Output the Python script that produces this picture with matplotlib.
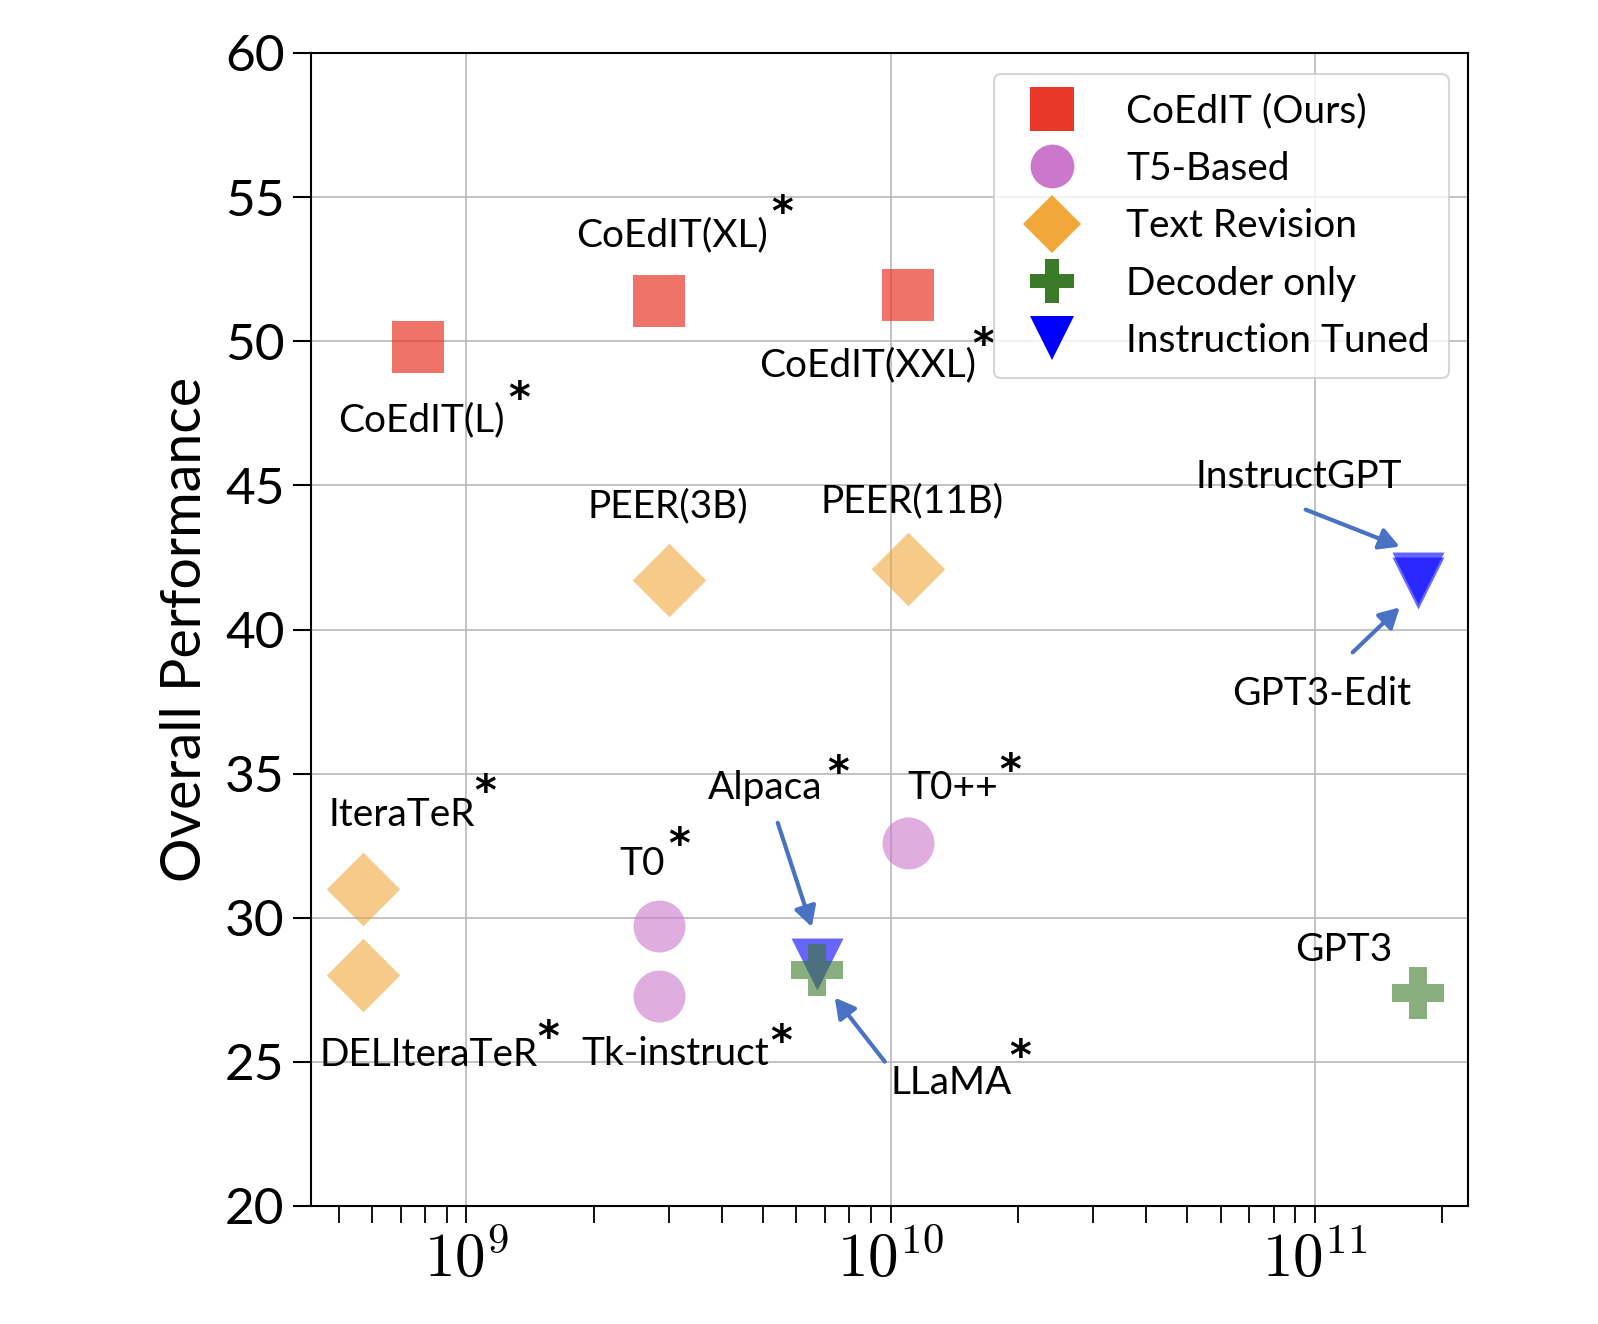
import matplotlib
matplotlib.use('Agg')
import matplotlib.pyplot as plt
from matplotlib.lines import Line2D
from matplotlib.transforms import offset_copy

plt.rcParams['mathtext.fontset'] = 'cm'

# model size (parameters) and overall performance, per group
coedit_names = ['CoEdIT(L)', 'CoEdIT(XL)', 'CoEdIT(XXL)']
coedit_params = [7.7e8, 2.84e9, 1.1e10]
coedit_perf = [49.8, 51.4, 51.6]

t5_names = ['T0', 'Tk-instruct', 'T0++']
t5_params = [2.84e9, 2.84e9, 1.1e10]
t5_perf = [29.7, 27.3, 32.6]

rev_names = ['IteraTeR', 'DELIteraTeR', 'PEER(3B)', 'PEER(11B)']
rev_params = [5.7e8, 5.7e8, 3.0e9, 1.1e10]
rev_perf = [31.0, 28.0, 41.7, 42.1]

dec_names = ['LLaMA', 'GPT3']
dec_params = [6.7e9, 1.75e11]
dec_perf = [28.2, 27.4]

inst_names = ['Alpaca', 'InstructGPT', 'GPT3-Edit']
inst_params = [6.7e9, 1.75e11, 1.75e11]
inst_perf = [28.4, 41.8, 41.6]

legend_labels = ['CoEdIT (Ours)', 'T5-Based', 'Text Revision', 'Decoder only', 'Instruction Tuned']

RED = '#e9382a'
PURPLE = '#cc77cc'
ORANGE = '#f0a83a'
GREEN = '#3a7a28'
BLUE = '#0000ff'
ARROW = '#4a72c4'

SANS = 'Lato'

fig = plt.figure(figsize=(15.98, 13.24), dpi=100)
ax = fig.add_axes([311 / 1598, 1 - 1206 / 1324, 1157 / 1598, 1153 / 1324])

S = 1400
ax.scatter(coedit_params, coedit_perf, s=S, marker='s', color=RED, alpha=0.7, linewidths=0, zorder=3)
ax.scatter(t5_params, t5_perf, s=S, marker='o', color=PURPLE, alpha=0.6, linewidths=0, zorder=3)
ax.scatter(rev_params, rev_perf, s=S, marker='D', color=ORANGE, alpha=0.6, linewidths=0, zorder=3)
ax.scatter(inst_params, inst_perf, s=S, marker='v', color=BLUE, alpha=0.6, linewidths=0, zorder=3)
ax.scatter(dec_params, dec_perf, s=S, marker='P', color=GREEN, alpha=0.6, linewidths=0, zorder=3)

ax.set_xscale('log')
ax.set_xlim(4.3e8, 2.3e11)
ax.set_ylim(20, 60)
ax.set_yticks(range(20, 61, 5))
ax.grid(True, which='major', color='#b8b8b8', linewidth=1.2, zorder=0)
ax.set_axisbelow(True)

for sp in ax.spines.values():
    sp.set_linewidth(1.5)
    sp.set_color('black')

ax.tick_params(axis='y', which='major', length=13, width=1.5, direction='out', labelsize=37, pad=6)
ax.tick_params(axis='x', which='both', length=12, width=1.3, direction='out', pad=6)
for lab in ax.get_yticklabels():
    lab.set_fontfamily(SANS)

ax.set_xticks([1e9, 1e10, 1e11])
ax.set_xticklabels([r'$10^{9}$', r'$10^{10}$', r'$10^{11}$'], fontsize=44)

ax.set_ylabel('Overall Performance', fontsize=40, fontfamily=SANS, labelpad=10)

# labels: (x, y, name, label offset px, asterisk offset px or None)
label_specs = [
    (coedit_params[0], coedit_perf[0], coedit_names[0], (3, -73), (99, -45)),
    (coedit_params[1], coedit_perf[1], coedit_names[1], (13, 66), (121, 95)),
    (coedit_params[2], coedit_perf[2], coedit_names[2], (-40, -70), (73, -43)),
    (rev_params[2], rev_perf[2], rev_names[2], (-1, 74), None),
    (rev_params[3], rev_perf[3], rev_names[3], (4, 68), None),
    (rev_params[0], rev_perf[0], rev_names[0], (39, 74), (120, 104)),
    (rev_params[1], rev_perf[1], rev_names[1], (66, -80), (183, -56)),
    (t5_params[0], t5_perf[0], t5_names[0], (-17, 62), (18, 88)),
    (t5_params[1], t5_perf[1], t5_names[1], (17, -58), (120, -39)),
    (t5_params[2], t5_perf[2], t5_names[2], (45, 55), (100, 79)),
    (inst_params[0], inst_perf[0], inst_names[0], (-52, 176), (19, 198)),
    (dec_params[0], dec_perf[0], dec_names[0], (134, -113), (201, -80)),
    (dec_params[1], dec_perf[1], dec_names[1], (-74, 43), None),
    (inst_params[1], inst_perf[1], inst_names[1], (-119, 101), None),
    (inst_params[2], inst_perf[2], inst_names[2], (-96, -111), None),
]

for x, y, name, off, ast in label_specs:
    ax.annotate(name, (x, y), xytext=off, textcoords='offset pixels',
                ha='center', va='center', fontsize=28, fontfamily=SANS, zorder=5)
    if ast is not None:
        # the glyph sits high in its box, so nudge it down a little
        ax.annotate('*', (x, y), xytext=(ast[0] + 2, ast[1] - 8), textcoords='offset pixels',
                    ha='center', va='center', fontsize=30, fontweight='bold',
                    fontfamily='DejaVu Sans', zorder=5)

# arrows: (x, y, tail offset px, head offset px)
arrow_specs = [
    (inst_params[0], inst_perf[0], (-39, 141), (-5, 37)),
    (dec_params[0], dec_perf[0], (68, -92), (18, -28)),
    (inst_params[1], inst_perf[1], (-112, 68), (-18, 31)),
    (inst_params[2], inst_perf[2], (-65, -69), (-18, -24)),
]
for x, y, tail, head in arrow_specs:
    tr = offset_copy(ax.transData, fig=fig, x=head[0], y=head[1], units='dots')
    ax.annotate('', xy=(x, y), xycoords=tr,
                xytext=(tail[0] - head[0], tail[1] - head[1]), textcoords='offset pixels',
                arrowprops=dict(arrowstyle='-|>,head_length=0.4,head_width=0.22',
                                mutation_scale=30, color=ARROW, lw=3,
                                shrinkA=0, shrinkB=0), zorder=5)

ms = 31.5
handles = [
    Line2D([], [], ls='none', marker='s', ms=ms, color=RED, mew=0),
    Line2D([], [], ls='none', marker='o', ms=ms, color=PURPLE, mew=0),
    Line2D([], [], ls='none', marker='D', ms=ms * 0.95, color=ORANGE, mew=0),
    Line2D([], [], ls='none', marker='P', ms=ms, color=GREEN, mew=0),
    Line2D([], [], ls='none', marker='v', ms=ms, color=BLUE, mew=0),
]
leg = ax.legend(handles, legend_labels, loc='upper right',
                bbox_to_anchor=((1449 - 311) / 1157, (1206 - 74) / 1153),
                borderaxespad=0, prop={'family': SANS, 'size': 28},
                labelspacing=0.55, handlelength=2.0, handletextpad=0.9,
                borderpad=0.5, framealpha=0.8, fancybox=True)
leg.get_frame().set_linewidth(1.5)
leg.get_frame().set_edgecolor('#cccccc')

fig.savefig('out.png', dpi=100)
